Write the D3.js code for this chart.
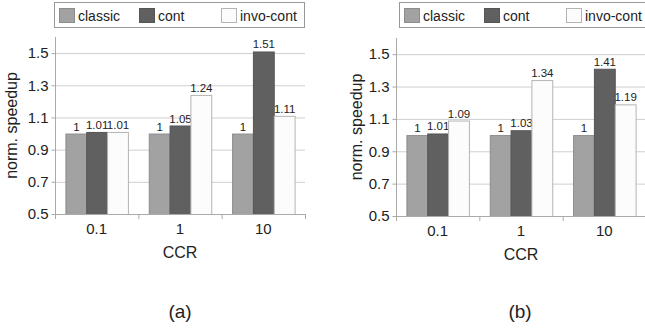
<!DOCTYPE html>
<html>
<head>
<meta charset="utf-8">
<script src="https://cdn.jsdelivr.net/npm/d3@7"></script>
<style>
  body { margin: 0; background: #fff; }
  svg { font-family: "Liberation Sans", Arial, sans-serif; }
</style>
</head>
<body>
<svg id="chart" width="645" height="329"></svg>
<script>
var categories = ["0.1", "1", "10"];
var seriesNames = ["classic", "cont", "invo-cont"];
var seriesColors = ["#a2a2a2", "#606060", "#fcfcfc"];
var seriesStroke = ["#8c8c8c", "#555", "#b4b4b4"];
var yTicks = [0.5, 0.7, 0.9, 1.1, 1.3, 1.5];

// panel (a)
var classicA = [1, 1, 1];
var contA = [1.01, 1.05, 1.51];
var invoA = [1.01, 1.24, 1.11];
// panel (b)
var classicB = [1, 1, 1];
var contB = [1.01, 1.03, 1.41];
var invoB = [1.09, 1.34, 1.19];

var svg = d3.select("#chart");

function drawPanel(opt) {
  var g = svg.append("g");
  var data = [opt.classic, opt.cont, opt.invo];

  var x = d3.scaleBand().domain(categories).range([opt.x0, opt.x1]);
  var xs = d3.scaleBand().domain(seriesNames).range([0, x.bandwidth()]).paddingOuter(0.5);
  var y = d3.scaleLinear().domain([0.5, 1.6]).range([opt.yBottom, opt.yTop]);

  // grid
  g.selectAll(".grid").data(yTicks.slice(1)).enter().append("line")
    .attr("x1", opt.x0).attr("x2", opt.x1)
    .attr("y1", function(d) { return y(d) + 0.5; })
    .attr("y2", function(d) { return y(d) + 0.5; })
    .attr("stroke", "#cfcfcf");

  // y axis
  var yAxis = d3.axisLeft(y).tickValues(yTicks).tickFormat(d3.format(".1f")).tickSize(4).tickPadding(3);
  var ya = g.append("g").attr("transform", "translate(" + (opt.x0 + 0.5) + ",0)").call(yAxis);
  ya.select(".domain").attr("stroke", "#aaa").attr("d", "M-0,"+ opt.yTop + "V" + opt.yBottom);
  ya.selectAll(".tick line").attr("stroke", "#aaa");
  ya.selectAll(".tick text").attr("fill", "#222").style("font-size", "15px");

  // bars
  seriesNames.forEach(function(s, si) {
    g.selectAll(".bar" + si).data(data[si]).enter().append("rect")
      .attr("x", function(d, i) { return x(categories[i]) + xs(s) + 0.5; })
      .attr("y", function(d) { return y(d) + 0.5; })
      .attr("width", xs.bandwidth())
      .attr("height", function(d) { return y(0.5) - y(d); })
      .attr("fill", seriesColors[si])
      .attr("stroke", seriesStroke[si])
      .attr("stroke-width", 1);
    g.selectAll(".lab" + si).data(data[si]).enter().append("text")
      .attr("x", function(d, i) { return x(categories[i]) + xs(s) + xs.bandwidth() / 2 + 0.5; })
      .attr("y", function(d) { return y(d) - 3; })
      .attr("text-anchor", "middle")
      .style("font-size", "11.5px")
      .attr("fill", "#222")
      .text(function(d) { return String(d); });
  });

  // x axis
  g.append("line").attr("x1", opt.x0).attr("x2", opt.x1)
    .attr("y1", opt.yBottom + 0.5).attr("y2", opt.yBottom + 0.5).attr("stroke", "#aaa");
  var bounds = categories.map(function(c) { return x(c); }).concat([opt.x1]);
  g.selectAll(".xt").data(bounds).enter().append("line")
    .attr("x1", function(d) { return d + 0.5; }).attr("x2", function(d) { return d + 0.5; })
    .attr("y1", opt.yBottom).attr("y2", opt.yBottom + 5).attr("stroke", "#aaa");
  g.selectAll(".xl").data(categories).enter().append("text")
    .attr("x", function(d) { return x(d) + x.bandwidth() / 2; })
    .attr("y", opt.yBottom + 20)
    .attr("text-anchor", "middle").style("font-size", "15px").attr("fill", "#222")
    .text(function(d) { return d; });

  g.append("text").attr("x", (opt.x0 + opt.x1) / 2).attr("y", opt.yBottom + 44)
    .attr("text-anchor", "middle").style("font-size", "16px").attr("fill", "#222").text("CCR");

  g.append("text")
    .attr("transform", "translate(" + opt.yLabelX + "," + ((opt.yTop + opt.yBottom) / 2) + ") rotate(-90)")
    .attr("text-anchor", "middle").style("font-size", "16px").attr("fill", "#222")
    .text("norm. speedup");

  g.append("text").attr("x", opt.capX).attr("y", 318)
    .attr("text-anchor", "middle").style("font-size", "19px").attr("fill", "#222").text(opt.caption);

  // legend
  var lg = g.append("g").attr("transform", "translate(" + opt.legX + ",2)");
  lg.append("rect").attr("x", 0.5).attr("y", 0.5).attr("width", 250).attr("height", 25)
    .attr("fill", "#fff").attr("stroke", "#999");
  var offs = [5, 85, 167];
  seriesNames.forEach(function(s, si) {
    lg.append("rect").attr("x", offs[si] + 0.5).attr("y", 6.5).attr("width", 15).attr("height", 14)
      .attr("fill", seriesColors[si]).attr("stroke", seriesStroke[si]);
    lg.append("text").attr("x", offs[si] + 19).attr("y", 19)
      .style("font-size", "14px").attr("fill", "#222").text(s);
  });
}

drawPanel({ classic: classicA, cont: contA, invo: invoA,
  x0: 55, x1: 305, yTop: 37, yBottom: 214, yLabelX: 17, capX: 180, caption: "(a)",
  legX: 54 });
drawPanel({ classic: classicB, cont: contB, invo: invoB,
  x0: 396, x1: 646, yTop: 38, yBottom: 216, yLabelX: 362, capX: 520, caption: "(b)",
  legX: 399 });
</script>
</body>
</html>
